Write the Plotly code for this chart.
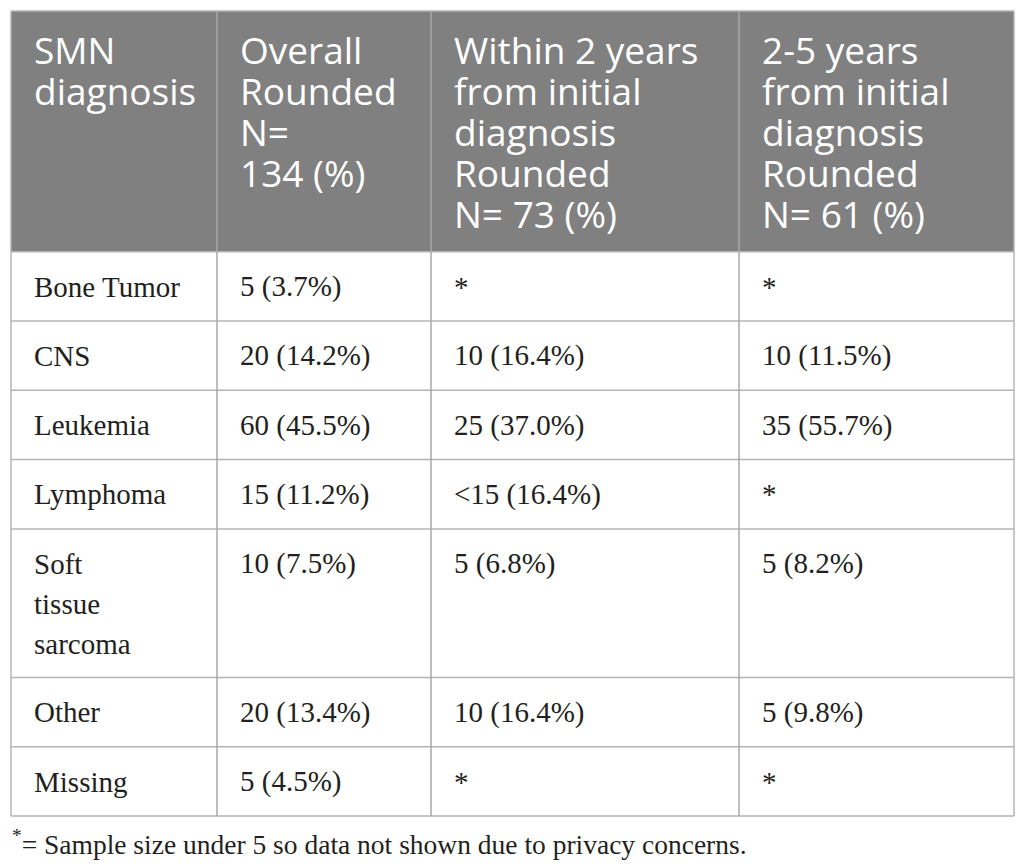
import plotly.graph_objects as go

# Table content
header_lines = [
    ["SMN", "diagnosis"],
    ["Overall", "Rounded", "N=", "134 (%)"],
    ["Within 2 years", "from initial", "diagnosis", "Rounded", "N= 73 (%)"],
    ["2-5 years", "from initial", "diagnosis", "Rounded", "N= 61 (%)"],
]

categories = ["Bone Tumor", "CNS", "Leukemia", "Lymphoma",
              "Soft<br>tissue<br>sarcoma", "Other", "Missing"]
overall = ["5 (3.7%)", "20 (14.2%)", "60 (45.5%)", "15 (11.2%)",
           "10 (7.5%)", "20 (13.4%)", "5 (4.5%)"]
within_2y = ["*", "10 (16.4%)", "25 (37.0%)", "&lt;15 (16.4%)",
             "5 (6.8%)", "10 (16.4%)", "*"]
from_2_to_5y = ["*", "10 (11.5%)", "35 (55.7%)", "*",
                "5 (8.2%)", "5 (9.8%)", "*"]

footnote = "<sup>*</sup>= Sample size under 5 so data not shown due to privacy concerns."

# Layout, in page pixels (page body has an 8px margin)
PAGE_W, PAGE_H = 1025, 868
OFF = 8
col_widths = [206, 214, 308, 275]
left, top = 11, 11
header_h = 240.7
row_h = 69.3
line_gap = 39.6
pad_x = 21

HEAD_FONT = dict(family="Open Sans", size=37, color="white")
BODY_FONT = dict(family="Liberation Serif", size=29, color="#231f20")
NOTE_FONT = dict(family="Liberation Serif", size=27.5, color="#231f20")
GRID = "#b4b4b4"

col_x = [left]
for w in col_widths:
    col_x.append(col_x[-1] + w)

columns = [categories, overall, within_2y, from_2_to_5y]

row_y = [top, top + header_h]
for cat in categories:
    n = len(cat.split("<br>"))
    row_y.append(row_y[-1] + row_h + (n - 1) * line_gap)

shapes = []
annotations = []

# header background
shapes.append(dict(type="rect", x0=col_x[0], x1=col_x[-1], y0=row_y[0], y1=row_y[1],
                   fillcolor="#808080", line=dict(width=0), layer="below"))

# horizontal lines
for y in row_y:
    shapes.append(dict(type="line", x0=col_x[0], x1=col_x[-1], y0=y, y1=y,
                       line=dict(color=GRID, width=1.5)))
# vertical lines
for x in col_x:
    inner = x not in (col_x[0], col_x[-1])
    shapes.append(dict(type="line", x0=x, x1=x, y0=row_y[0], y1=row_y[-1],
                       line=dict(color="#a8a8a8" if inner else GRID, width=1.5)))


def add_text(x, baseline, text, font):
    annotations.append(dict(x=x, y=baseline - 0.35 * font["size"], text=text,
                            xref="x", yref="y", xanchor="left", yanchor="middle",
                            showarrow=False, font=font, align="left"))


# header text
for c, lines in enumerate(header_lines):
    for k, line in enumerate(lines):
        add_text(col_x[c] + pad_x, row_y[0] + 51 + k * 41, line, HEAD_FONT)

# body text
for c, col in enumerate(columns):
    for r, val in enumerate(col):
        for k, line in enumerate(val.split("<br>")):
            add_text(col_x[c] + pad_x, row_y[r + 1] + 45 + k * 40, line, BODY_FONT)

# footnote
add_text(10, 851.7, footnote, NOTE_FONT)

fig = go.Figure()
fig.add_trace(go.Scatter(x=[OFF, PAGE_W], y=[OFF, PAGE_H], mode="markers",
                         marker=dict(opacity=0), hoverinfo="skip", showlegend=False))

fig.update_layout(
    width=PAGE_W - OFF, height=PAGE_H - OFF,
    margin=dict(l=0, r=0, t=0, b=0),
    paper_bgcolor="white", plot_bgcolor="white",
    shapes=shapes, annotations=annotations,
    xaxis=dict(range=[OFF, PAGE_W], visible=False, fixedrange=True),
    yaxis=dict(range=[PAGE_H, OFF], visible=False, fixedrange=True),
)

fig.write_html("out.html")
